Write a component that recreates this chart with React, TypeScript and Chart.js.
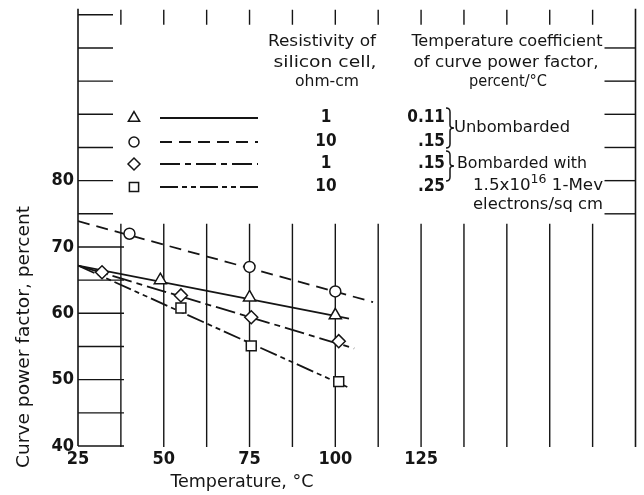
import React, { useEffect, useRef } from 'react';
import { Chart, registerables } from 'chart.js';
import { drawPoint } from 'chart.js/helpers';

Chart.register(...registerables);

// ---- data ----
const xTickLabels = [25, 50, 75, 100, 125];
const yTickLabels = [40, 50, 60, 70, 80];

// measured points (temperature °C, curve power factor %)
const triTemp = [49, 75, 100];
const triVal = [65.0, 62.4, 59.7];
const cirTemp = [40, 75, 100];
const cirVal = [72.0, 67.0, 63.3];
const diaTemp = [32, 55, 75.5, 101];
const diaVal = [66.2, 62.7, 59.4, 55.8];
const sqTemp = [55, 75.5, 101];
const sqVal = [60.8, 55.1, 49.7];

// fitted lines (end points)
const triFitTemp = [25, 104];
const triFitVal = [67.2, 59.2];
const cirFitTemp = [25, 111];
const cirFitVal = [73.9, 61.7];
const diaFitTemp = [25, 105.5];
const diaFitVal = [67.2, 54.7];
const sqFitTemp = [25, 103.5];
const sqFitVal = [67.2, 48.9];

// legend table
const resistivity = ['1', '10', '1', '10'];
const coefficients = ['0.11', '.15', '.15', '.25'];
const markerStyles = ['triangle', 'circle', 'rectRot', 'rect'];

const INK = '#151515';
const TXT = "'DejaVu Sans Condensed', 'DejaVu Sans', sans-serif";
const NUM = "'Liberation Sans Narrow', 'DejaVu Sans Condensed', sans-serif";

const DASH_SOLID: number[] = [];
const DASH_CIR = [12, 7];
const DASH_DIA = [20, 5, 6, 5];
const DASH_SQ = [18, 4, 5, 4, 5, 4];
const dashes = [DASH_SOLID, DASH_CIR, DASH_DIA, DASH_SQ];
const markerRadii = [7, 5.5, 6.5, 7];

const zip = (xs: number[], ys: number[]) => xs.map((x, i) => ({ x, y: ys[i] }));

function fitText(
  ctx: CanvasRenderingContext2D,
  text: string,
  x: number,
  cy: number,
  width: number,
  font: string,
  align: 'left' | 'center' | 'right' = 'center'
) {
  ctx.font = font;
  const w = ctx.measureText(text).width;
  let s = width / w;
  s = Math.max(0.75, Math.min(1.3, s));
  const real = w * s;
  const x0 = align === 'center' ? x - real / 2 : align === 'right' ? x - real : x;
  ctx.save();
  ctx.textAlign = 'left';
  ctx.textBaseline = 'middle';
  ctx.translate(x0, cy);
  ctx.scale(s, 1);
  ctx.fillText(text, 0, 0);
  ctx.restore();
}

function drawMarker(ctx: CanvasRenderingContext2D, style: string, x: number, y: number, r: number) {
  ctx.save();
  ctx.fillStyle = '#fff';
  ctx.strokeStyle = INK;
  ctx.lineWidth = 1.5;
  ctx.setLineDash([]);
  drawPoint(ctx, { pointStyle: style as any, radius: r, borderWidth: 1.5, rotation: 0 } as any, x, y);
  ctx.restore();
}

function drawBrace(ctx: CanvasRenderingContext2D, x: number, y1: number, y2: number, w: number) {
  const ym = (y1 + y2) / 2;
  const h = w / 2;
  ctx.beginPath();
  ctx.moveTo(x, y1);
  ctx.quadraticCurveTo(x + h, y1, x + h, y1 + 4);
  ctx.lineTo(x + h, ym - 3);
  ctx.quadraticCurveTo(x + h, ym, x + w, ym);
  ctx.quadraticCurveTo(x + h, ym, x + h, ym + 3);
  ctx.lineTo(x + h, y2 - 4);
  ctx.quadraticCurveTo(x + h, y2, x, y2);
  ctx.stroke();
}

const decor = {
  id: 'decor',
  beforeDatasetsDraw(chart: any) {
    const { ctx, chartArea, scales } = chart;
    const { top, bottom } = chartArea;
    const xs = scales.x;
    const ys = scales.y;
    ctx.save();
    ctx.strokeStyle = INK;
    ctx.lineWidth = 1.6;
    ctx.setLineDash([]);
    const xL = xs.getPixelForValue(xs.min);
    const xR = xs.getPixelForValue(xs.max);
    // left axis and right frame line
    ctx.beginPath();
    ctx.moveTo(xL, top - 6);
    ctx.lineTo(xL, bottom);
    ctx.moveTo(xR, top - 6);
    ctx.lineTo(xR, bottom + 1);
    ctx.stroke();
    // vertical grid lines (lower part) and top ticks
    const gridTop = ys.getPixelForValue(73.5);
    ctx.lineWidth = 1.4;
    for (let v = xs.min + 12.5; v < xs.max - 1; v += 12.5) {
      const px = xs.getPixelForValue(v);
      ctx.beginPath();
      ctx.moveTo(px, gridTop);
      ctx.lineTo(px, bottom + 1);
      ctx.moveTo(px, top - 5);
      ctx.lineTo(px, top + 10);
      ctx.stroke();
    }
    // left ticks
    for (let v = ys.min; v <= ys.max; v += 5) {
      const py = ys.getPixelForValue(v);
      const len = v <= 70 ? 46 : 35;
      ctx.beginPath();
      ctx.moveTo(xL, py);
      ctx.lineTo(xL + len, py);
      ctx.stroke();
    }
    // right ticks
    for (let v = 75; v <= 100; v += 5) {
      const py = ys.getPixelForValue(v);
      ctx.beginPath();
      ctx.moveTo(xR, py);
      ctx.lineTo(xR - 31, py);
      ctx.stroke();
    }
    ctx.restore();
  },
  afterDraw(chart: any) {
    const { ctx } = chart;
    ctx.save();
    ctx.fillStyle = INK;
    ctx.strokeStyle = INK;

    // axis titles
    ctx.save();
    ctx.translate(25, 337);
    ctx.rotate(-Math.PI / 2);
    fitText(ctx, 'Curve power factor, percent', 0, 0, 262, `17px ${TXT}`);
    ctx.restore();
    fitText(ctx, 'Temperature, °C', 242, 483, 143, `17px ${TXT}`);

    // legend headers
    const f = `16px ${TXT}`;
    fitText(ctx, 'Resistivity of', 322, 42, 108, f);
    fitText(ctx, 'silicon cell,', 325, 63, 104, f);
    fitText(ctx, 'ohm-cm', 327, 82, 64, f);
    fitText(ctx, 'Temperature coefficient', 507, 42, 191, f);
    fitText(ctx, 'of curve power factor,', 506, 63, 185, f);
    fitText(ctx, 'percent/°C', 508, 82, 78, f);

    // legend rows
    const rowY = [118, 142, 164, 187];
    rowY.forEach((ry, i) => {
      drawMarker(ctx, markerStyles[i], 134, ry, markerRadii[i] - 0.5);
      ctx.save();
      ctx.lineWidth = 1.8;
      ctx.setLineDash(dashes[i]);
      ctx.beginPath();
      ctx.moveTo(160, ry);
      ctx.lineTo(258, ry);
      ctx.stroke();
      ctx.restore();
      ctx.fillStyle = INK;
      ctx.font = `bold 17px ${NUM}`;
      ctx.textAlign = 'center';
      ctx.textBaseline = 'middle';
      ctx.fillText(resistivity[i], 326, ry);
      ctx.textAlign = 'right';
      ctx.fillText(coefficients[i], 445, ry);
    });

    // braces
    ctx.lineWidth = 1.5;
    drawBrace(ctx, 446, 108, 148, 8);
    drawBrace(ctx, 446, 151, 181, 8);

    fitText(ctx, 'Unbombarded', 454, 128, 116, f, 'left');
    fitText(ctx, 'Bombarded with', 457, 164, 130, f, 'left');

    // 1.5x10^16 1-Mev
    ctx.textAlign = 'left';
    ctx.textBaseline = 'middle';
    const big = `16px ${TXT}`;
    const small = `12px ${TXT}`;
    ctx.font = big;
    const w1 = ctx.measureText('1.5x10').width;
    ctx.font = small;
    const w2 = ctx.measureText('16').width;
    ctx.font = big;
    const w3 = ctx.measureText(' 1-Mev').width;
    const total = w1 + w2 + w3;
    const s = 130 / total;
    ctx.save();
    ctx.translate(473, 186);
    ctx.scale(s, 1);
    ctx.font = big;
    ctx.fillText('1.5x10', 0, 0);
    ctx.font = small;
    ctx.fillText('16', w1, -6);
    ctx.font = big;
    ctx.fillText(' 1-Mev', w1 + w2, 0);
    ctx.restore();

    fitText(ctx, 'electrons/sq cm', 473, 205, 130, f, 'left');
    ctx.restore();
  },
};

export default function App() {
  const ref = useRef<HTMLCanvasElement>(null);
  useEffect(() => {
    const canvas = ref.current!;
    const lineDs = (xs: number[], ys: number[], dash: number[]) => ({
      data: zip(xs, ys),
      showLine: true,
      borderColor: INK,
      borderWidth: 1.8,
      borderDash: dash,
      pointRadius: 0,
      fill: false,
    });
    const ptDs = (xs: number[], ys: number[], style: string, r: number) => ({
      data: zip(xs, ys),
      showLine: false,
      pointStyle: style,
      pointRadius: r,
      pointBackgroundColor: '#fff',
      pointBorderColor: INK,
      pointBorderWidth: 1.5,
    });
    const chart = new Chart(canvas, {
      type: 'scatter',
      data: {
        datasets: [
          ptDs(triTemp, triVal, 'triangle', markerRadii[0]),
          ptDs(cirTemp, cirVal, 'circle', markerRadii[1]),
          ptDs(diaTemp, diaVal, 'rectRot', markerRadii[2]),
          ptDs(sqTemp, sqVal, 'rect', markerRadii[3]),
          lineDs(triFitTemp, triFitVal, DASH_SOLID),
          lineDs(cirFitTemp, cirFitVal, DASH_CIR),
          lineDs(diaFitTemp, diaFitVal, DASH_DIA),
          lineDs(sqFitTemp, sqFitVal, DASH_SQ),
        ] as any,
      },
      options: {
        responsive: false,
        animation: false,
        events: [],
        layout: { padding: { top: 14, right: 8, left: 0, bottom: 0 } },
        plugins: { legend: { display: false }, tooltip: { enabled: false } },
        scales: {
          x: {
            type: 'linear',
            min: 25,
            max: 187.5,
            grid: { display: false, drawTicks: false },
            border: { display: false },
            afterFit: (s: any) => {
              s.height = 49;
            },
            ticks: {
              stepSize: 12.5,
              autoSkip: false,
              maxRotation: 0,
              padding: 3,
              color: INK,
              font: { family: NUM, size: 18, weight: 'bold' },
              callback: (v: any) => (xTickLabels.includes(Number(v)) ? String(v) : ''),
            },
          },
          y: {
            type: 'linear',
            min: 40,
            max: 105,
            grid: { display: false, drawTicks: false },
            border: { display: false },
            afterFit: (s: any) => {
              s.width = 78;
            },
            ticks: {
              stepSize: 5,
              autoSkip: false,
              padding: 4,
              color: INK,
              font: { family: NUM, size: 18, weight: 'bold' },
              callback: (v: any) => (yTickLabels.includes(Number(v)) ? String(v) : ''),
            },
          },
        },
      } as any,
      plugins: [decor],
    });
    return () => chart.destroy();
  }, []);
  return (
    <div style={{ position: 'fixed', left: 0, top: 0, width: 644, height: 495, background: '#fff' }}>
      <canvas ref={ref} width={644} height={495} style={{ display: 'block' }} />
    </div>
  );
}
